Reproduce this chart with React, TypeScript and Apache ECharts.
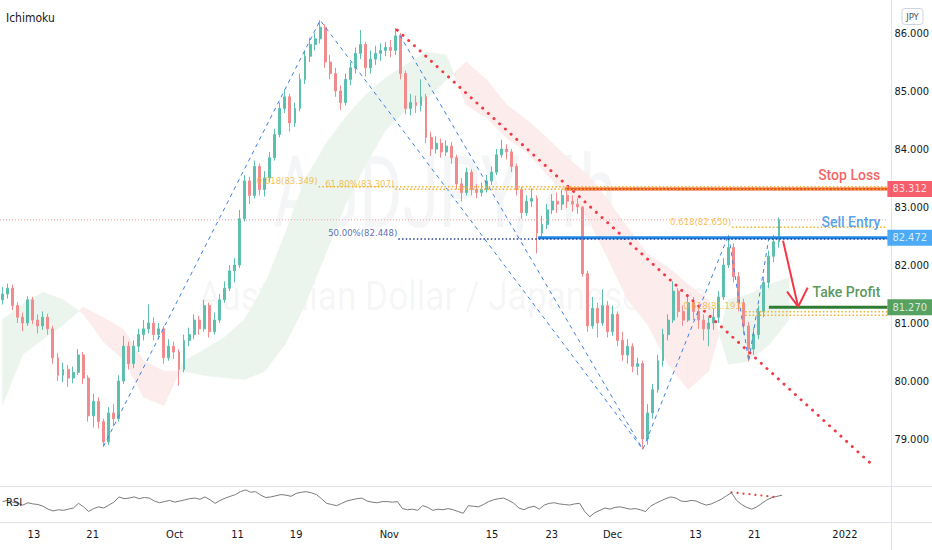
import React, { useEffect, useRef } from "react";
import * as echarts from "echarts";

// ---------- data ----------
const firstOpen = 81.4;
const closes = [
  81.5, 81.6, 81.3, 81.1, 81.0, 81.4, 81.05, 80.95, 81.1, 80.9,
  80.4, 80.1, 80.2, 80.05, 80.15, 80.45, 80.05, 79.4, 79.65, 79.3,
  78.95, 79.45, 79.35, 80.0, 80.6, 80.3, 80.6, 80.8, 80.9, 81.0,
  80.8, 80.9, 80.4, 80.6, 80.5, 80.2, 80.7, 80.8, 81.05, 80.9,
  81.3, 80.85, 81.05, 81.4, 81.6, 81.9, 82.0, 82.8, 83.45, 83.2,
  83.7, 83.3, 83.5, 83.85, 84.25, 84.7, 84.9, 84.45, 84.7, 85.2,
  85.6, 85.8, 85.9, 86.1, 85.5, 85.3, 85.0, 84.8, 85.2, 85.4,
  85.65, 85.8, 85.4, 85.55, 85.65, 85.7, 85.75, 85.7, 85.95, 85.3,
  84.7, 84.8, 84.75, 84.9, 84.2, 84.0, 84.1, 83.95, 84.05, 83.85,
  83.4, 83.25, 83.6, 83.3, 83.25, 83.3, 83.45, 83.6, 83.9, 84.0,
  83.95, 83.7, 83.3, 82.9, 83.1, 83.15, 82.55, 82.7, 82.95, 83.1,
  83.05, 83.2, 83.1, 83.05, 83.0, 81.85, 80.95, 81.25, 81.0, 81.3,
  80.85, 81.15, 80.7, 80.45, 80.6, 80.25, 80.3, 79.0, 79.45, 79.85,
  80.35, 80.8, 81.05, 81.55, 81.2, 81.05, 81.35, 81.2, 81.05, 80.9,
  81.0, 81.1, 81.45, 82.0, 82.3, 81.8, 81.35, 80.95, 80.55, 80.8,
  81.2, 81.7, 82.15, 82.4, 82.78,
];
const highs = [
  81.62, 81.68, 81.66, 81.36, 81.18, 81.46, 81.45, 81.15, 81.2, 81.16,
  80.95, 80.48, 80.32, 80.28, 80.25, 80.55, 80.5, 80.1, 79.78, 79.72,
  79.35, 79.55, 79.6, 80.1, 80.78, 80.68, 80.7, 80.9, 81.05, 81.32,
  81.1, 81.0, 80.95, 80.72, 80.68, 80.55, 80.8, 80.92, 81.15, 81.12,
  81.4, 81.35, 81.18, 81.5, 81.72, 82.0, 82.12, 82.95, 83.55, 83.52,
  83.8, 83.75, 83.62, 83.95, 84.35, 84.8, 85.02, 84.95, 84.8, 85.3,
  85.7, 85.92, 86.0, 86.22, 86.15, 85.62, 85.4, 85.1, 85.3, 85.5,
  85.75, 86.05, 85.85, 85.7, 85.78, 85.82, 85.85, 85.88, 86.08, 86.0,
  85.35, 84.95, 84.92, 85.2, 84.95, 84.3, 84.22, 84.18, 84.15, 84.12,
  83.9, 83.5, 83.68, 83.65, 83.4, 83.42, 83.55, 83.7, 84.0, 84.16,
  84.08, 84.0, 83.75, 83.35, 83.2, 83.32, 83.2, 82.85, 83.05, 83.22,
  83.25, 83.3, 83.28, 83.2, 83.15, 83.02, 81.9, 81.45, 81.35, 81.58,
  81.38, 81.3, 81.2, 80.85, 80.72, 80.65, 80.4, 80.35, 79.6, 79.95,
  80.45, 80.9, 81.15, 81.72, 81.6, 81.3, 81.5, 81.45, 81.3, 81.15,
  81.1, 81.25, 81.55, 82.12, 82.52, 82.38, 81.88, 81.42, 81.02, 80.92,
  81.3, 81.8, 82.25, 82.52, 82.82,
];
const lows = [
  81.32, 81.42, 81.22, 81.0, 80.86, 80.95, 80.98, 80.82, 80.88, 80.8,
  80.3, 80.0, 79.98, 79.9, 79.96, 80.1, 79.95, 79.3, 79.2, 79.18,
  78.87, 78.9, 79.22, 79.3, 79.95, 80.2, 80.22, 80.5, 80.7, 80.82,
  80.7, 80.72, 80.3, 80.35, 80.38, 79.92, 80.15, 80.6, 80.72, 80.8,
  80.85, 80.75, 80.8, 81.0, 81.35, 81.55, 81.7, 81.95, 82.75, 83.05,
  83.15, 83.2, 83.18, 83.42, 83.8, 84.2, 84.62, 84.3, 84.38, 84.65,
  85.12, 85.5, 85.7, 85.82, 85.4, 85.2, 84.9, 84.67, 84.75, 85.1,
  85.3, 85.55, 85.25, 85.3, 85.45, 85.52, 85.6, 85.58, 85.62, 85.2,
  84.6, 84.58, 84.62, 84.65, 84.1, 83.88, 83.92, 83.85, 83.88, 83.75,
  83.3, 83.1, 83.2, 83.2, 83.15, 83.18, 83.25, 83.38, 83.55, 83.85,
  83.82, 83.6, 83.2, 82.8, 82.85, 83.0, 82.2, 82.45, 82.62, 82.88,
  82.9, 82.95, 82.98, 82.92, 82.88, 81.8, 80.85, 80.9, 80.75, 80.95,
  80.75, 80.78, 80.6, 80.35, 80.3, 80.15, 80.1, 78.82, 78.9, 79.35,
  79.8, 80.25, 80.7, 81.0, 81.1, 80.95, 81.02, 81.05, 80.9, 80.7,
  80.6, 80.88, 81.0, 81.4, 81.95, 81.7, 81.2, 80.8, 80.34, 80.45,
  80.72, 81.1, 81.6, 82.05, 82.3,
];
const rsiValues = [
  55, 57, 54, 52, 49, 53, 51, 50, 47, 42,
  39, 41, 40, 42, 44, 52, 46, 38, 43, 46,
  44, 49, 54, 63, 60, 61, 63, 60, 62, 61,
  56, 53, 55, 57, 54, 56, 58, 60, 61, 59,
  63, 58, 52, 57, 61, 64, 67, 72, 75, 71,
  72, 66, 62, 63, 65, 67, 66, 64, 69, 71,
  72, 70, 67, 60, 52, 50, 48, 52, 56, 58,
  60, 61, 56, 54, 53, 55, 55, 54, 55, 43,
  41, 42, 40, 48, 45, 40, 42, 41, 43, 41,
  38, 35, 48, 47, 46, 50, 55, 58, 60, 61,
  57, 52, 44, 41, 45, 47, 42, 49, 52, 53,
  51, 50, 49, 51, 52, 38, 29, 36, 40, 44,
  42, 45, 46, 44, 42, 43, 41, 38, 47, 52,
  56, 60, 63, 61, 56, 55, 57, 56, 52, 49,
  51, 55, 59, 65, 70, 57, 50, 45, 42, 46,
  52, 58, 62, 64, 66,
];

// Ichimoku cloud (Senkou spans), sampled every 4 slots
const cloudSlots = [
  0, 4, 8, 12, 16, 20, 24, 28, 32, 36, 40, 44, 48, 52, 56, 60, 64, 68, 72, 76,
  80, 84, 88, 92, 96, 100, 104, 108, 112, 116, 120, 124, 128, 132, 136, 140, 144, 148, 152, 156,
];
const spanA = [
  81.06, 81.32, 81.53, 81.4, 81.16, 80.68, 80.37, 79.72, 79.58, 80.34,
  80.54, 80.75, 81.06, 81.66, 82.52, 83.47, 84.07, 84.54, 84.93, 85.23,
  85.45, 85.67, 85.62, 84.76, 84.54, 84.19, 83.95, 83.56, 83.21, 82.82,
  82.13, 81.4, 80.97, 80.29, 79.86, 80.17, 81.4, 81.49, 81.66, 81.78,
];
const spanB = [
  79.6, 80.46, 80.72, 80.97, 81.27, 81.09, 80.89, 80.34, 80.17, 80.17,
  80.1, 80.06, 80.03, 80.17, 80.63, 81.32, 82.18, 83.04, 83.73, 84.33,
  84.67, 84.85, 85.19, 85.5, 85.19, 84.76, 84.5, 84.19, 83.85, 83.56,
  83.13, 82.64, 82.18, 81.96, 81.66, 81.4, 80.29, 80.34, 80.63, 81.06,
];

// time axis ticks (slot positions, half-day slots)
const xTickSlots = [6.2, 17.8, 34.0, 46.4, 58.0, 76.4, 96.7, 108.5, 120.5, 136.9, 148.5, 166.4];
const xTickLabels = ["13", "21", "Oct", "11", "19", "Nov", "15", "23", "Dec", "13", "21", "2022"];
const priceTicks = [79, 80, 81, 82, 83, 84, 85, 86];

// drawings (slot, price)
const zigzagMain = [[20, 78.87], [63, 86.22], [127, 78.82], [144, 82.52], [148, 80.34], [152, 82.47]];
const zigzagSecond = [[78, 86.08], [127, 78.82]];
const trendLine = [[78.3, 86.05], [172.3, 78.57]];
const rsiTrend = [[144, 71], [152.5, 63]];
const arrowShaft = [[154.8, 82.42], [157.8, 81.28]];
const arrowHead = [[155.6, 81.54], [157.8, 81.28], [159.7, 81.61]];

const stopLoss = 83.312;
const sellEntry = 82.472;
const takeProfit = 81.27;
const stopLossStart = 111.5;
const sellEntryStart = 106.2;
const takeProfitStart = 152.0;

const goldLevels = [83.349, 83.307, 82.65, 81.193, 81.135];
const goldStarts = [62.7, 77.9, 144.7, 147.3, 147.3];
const goldTexts = ["0.618(83.349)", "61.80%(83.307)", "0.618(82.650)", "0.618(81.193)", ""];
const halfLevel = 82.448;
const halfStart = 78.5;
const halfText = "50.00%(82.448)";

// ---------- layout constants ----------
const N_SLOTS = 176;
const X_MIN = -0.5;
const X_MAX = N_SLOTS - 0.5;
const PRICE_MAX = 86.569;
const PRICE_MIN = 78.19;
const FONT = "'Liberation Sans Narrow','DejaVu Sans Condensed','Arial Narrow',Roboto,sans-serif";
const UP = "#5dbfae";
const DOWN = "#f08b8e";
const GOLD = "#f3b229";

export default function App() {
  const ref = useRef<HTMLDivElement>(null);

  useEffect(() => {
    const el = ref.current!;
    const chart = echarts.init(el, null, { renderer: "svg" });

    const opens = closes.map((c, i) => (i === 0 ? firstOpen : closes[i - 1]));
    const candles = closes.map((c, i) => [opens[i], c, lows[i], highs[i]]);
    const slotNames = Array.from({ length: N_SLOTS }, (_, i) => String(i));
    const lastPrice = closes[closes.length - 1];

    const cloudSegments: number[][] = [];
    for (let i = 0; i < cloudSlots.length - 1; i++) {
      cloudSegments.push([cloudSlots[i], spanA[i], spanB[i], cloudSlots[i + 1], spanA[i + 1], spanB[i + 1]]);
    }

    const seg = (data: any[], color: string, width: number, type: any, z = 5, extra: any = {}) => ({
      type: "line",
      xAxisIndex: 1,
      yAxisIndex: 0,
      data,
      symbol: "none",
      silent: true,
      z,
      lineStyle: { color, width, type, cap: extra.cap || "butt" },
    });

    const textSeries = (
      x: number, y: number, text: string, color: string, fontSize: number, offsetY: number,
      family = FONT, weight: any = "normal",
    ) => ({
      type: "scatter",
      xAxisIndex: 1,
      yAxisIndex: 0,
      symbolSize: 0,
      silent: true,
      z: 12,
      data: [[x, y]],
      label: {
        show: true,
        position: "left",
        distance: 1,
        offset: [0, offsetY],
        formatter: text,
        color,
        fontSize,
        fontFamily: family,
        fontWeight: weight,
      },
    });

    const priceBox = (value: number, bg: string) => ({
      type: "scatter",
      xAxisIndex: 1,
      yAxisIndex: 0,
      symbolSize: 0,
      silent: true,
      clip: false,
      z: 30,
      data: [[X_MAX, value]],
      label: {
        show: true,
        position: "right",
        distance: 0,
        formatter: value.toFixed(3),
        color: "#ffffff",
        backgroundColor: bg,
        padding: [3, 7, 2, 5],
        fontSize: 11,
        fontFamily: FONT,
      },
    });

    const series: any[] = [];

    // Ichimoku cloud
    series.push({
      type: "custom",
      xAxisIndex: 1,
      yAxisIndex: 0,
      z: 1,
      silent: true,
      clip: true,
      data: cloudSegments,
      encode: { x: [0, 3], y: [1, 2, 4, 5] },
      renderItem: (params: any, api: any) => {
        const s0 = api.value(0), a0 = api.value(1), b0 = api.value(2);
        const s1 = api.value(3), a1 = api.value(4), b1 = api.value(5);
        const col = (d: number) => (d >= 0 ? "#ebf5ed" : "#fdecec");
        const d0 = a0 - b0, d1 = a1 - b1;
        const P = (s: number, v: number) => api.coord([s, v]);
        if (d0 * d1 < 0) {
          const t = d0 / (d0 - d1);
          const xs = s0 + t * (s1 - s0);
          const ys = a0 + t * (a1 - a0);
          return {
            type: "group",
            children: [
              { type: "polygon", shape: { points: [P(s0, a0), P(xs, ys), P(s0, b0)] }, style: { fill: col(d0), stroke: col(d0), lineWidth: 0.8 } },
              { type: "polygon", shape: { points: [P(xs, ys), P(s1, a1), P(s1, b1)] }, style: { fill: col(d1), stroke: col(d1), lineWidth: 0.8 } },
            ],
          };
        }
        const c = col(d0 + d1);
        return {
          type: "polygon",
          shape: { points: [P(s0, a0), P(s1, a1), P(s1, b1), P(s0, b0)] },
          style: { fill: c, stroke: c, lineWidth: 0.8 },
        };
      },
    });

    // candles
    series.push({
      type: "candlestick",
      xAxisIndex: 0,
      yAxisIndex: 0,
      data: candles,
      barWidth: 2.4,
      z: 3,
      silent: true,
      itemStyle: { color: UP, color0: DOWN, borderColor: UP, borderColor0: DOWN, borderWidth: 1 },
    });

    // current price line
    series.push(seg([[X_MIN, lastPrice], [X_MAX, lastPrice]], "#f5a0a7", 1, [1, 2], 4));

    // zigzag dashed lines
    series.push(seg(zigzagMain, "#3f80e4", 1, [4, 4], 6));
    series.push(seg(zigzagSecond, "#3f80e4", 1, [4, 4], 6));

    // red dotted trend line
    series.push(seg(trendLine, "#f03a46", 3, [0.01, 7.7], 7, { cap: "round" }));

    // solid trade levels
    series.push(seg([[stopLossStart, stopLoss], [X_MAX, stopLoss]], "#e94f1f", 3, "solid", 8));
    series.push(seg([[sellEntryStart, sellEntry], [X_MAX, sellEntry]], "#1e88e5", 3, "solid", 8));
    series.push(seg([[takeProfitStart, takeProfit], [X_MAX, takeProfit]], "#2e7d32", 3, "solid", 8));

    // fib dotted levels
    goldLevels.forEach((v, i) => {
      series.push(seg([[goldStarts[i], v], [X_MAX, v]], GOLD, 1.5, [1.5, 2.2], 9));
      if (goldTexts[i]) series.push(textSeries(goldStarts[i], v, goldTexts[i], "#f0b12a", 9.5, -6));
    });
    series.push(seg([[halfStart, halfLevel], [X_MAX, halfLevel]], "#2b3f95", 1.5, [1.5, 2.2], 9));
    series.push(textSeries(halfStart, halfLevel, halfText, "#30489c", 9.5, -7));

    // arrow
    series.push(seg(arrowShaft, "#f23645", 2, "solid", 10));
    series.push(seg(arrowHead, "#f23645", 2, "solid", 10));

    // trade texts
    series.push(textSeries(174.3, stopLoss, "Stop Loss", "#ef3b3b", 14, -14, "Roboto", 500));
    series.push(textSeries(174.3, sellEntry, "Sell Entry", "#2a8ce6", 14, -16, "Roboto", 500));
    series.push(textSeries(174.3, takeProfit, "Take Profit", "#2e7d32", 14, -15, "Roboto", 500));

    // price boxes on the scale
    series.push(priceBox(stopLoss, "#f23645"));
    series.push(priceBox(sellEntry, "#2196f3"));
    series.push(priceBox(takeProfit, "#2e8b3a"));

    // RSI
    series.push({
      type: "line",
      xAxisIndex: 2,
      yAxisIndex: 1,
      data: rsiValues.map((v, i) => [i, v]),
      symbol: "none",
      silent: true,
      lineStyle: { color: "#7a7a7a", width: 1 },
      z: 3,
    });
    series.push({
      type: "line",
      xAxisIndex: 2,
      yAxisIndex: 1,
      data: rsiTrend,
      symbol: "none",
      silent: true,
      lineStyle: { color: "#f03a46", width: 2.2, type: [0.01, 6], cap: "round" },
      z: 4,
    });

    const option: any = {
      animation: false,
      backgroundColor: "#ffffff",
      grid: [
        { left: 0, right: 41, top: 0, height: 486 },
        { left: 0, right: 41, top: 487, height: 35 },
      ],
      xAxis: [
        { type: "category", gridIndex: 0, data: slotNames, show: false, boundaryGap: true },
        { type: "value", gridIndex: 0, min: X_MIN, max: X_MAX, show: false },
        {
          type: "value",
          gridIndex: 1,
          min: X_MIN,
          max: X_MAX,
          axisLine: { show: false },
          axisTick: { show: false },
          splitLine: { show: false },
          axisLabel: {
            customValues: xTickSlots,
            formatter: (v: number) => {
              const k = xTickSlots.findIndex((s) => Math.abs(s - v) < 1e-6);
              return k >= 0 ? xTickLabels[k] : "";
            },
            color: "#131722",
            fontSize: 11,
            fontFamily: FONT,
            margin: 7,
          },
        },
      ],
      yAxis: [
        {
          type: "value",
          gridIndex: 0,
          min: PRICE_MIN,
          max: PRICE_MAX,
          position: "right",
          axisLine: { show: false },
          axisTick: { show: false },
          splitLine: { show: false },
          axisLabel: {
            customValues: priceTicks,
            formatter: (v: number) => v.toFixed(3),
            color: "#131722",
            fontSize: 11,
            fontFamily: FONT,
            margin: 7,
          },
        },
        { type: "value", gridIndex: 1, min: 20, max: 80, show: false },
      ],
      graphic: [
        { type: "line", silent: true, z: 20, shape: { x1: 891.5, y1: 0, x2: 891.5, y2: 550 }, style: { stroke: "#e0e3eb", lineWidth: 1 } },
        { type: "line", silent: true, z: 20, shape: { x1: 0, y1: 486.5, x2: 932, y2: 486.5 }, style: { stroke: "#e0e3eb", lineWidth: 1 } },
        { type: "line", silent: true, z: 20, shape: { x1: 0, y1: 522.5, x2: 932, y2: 522.5 }, style: { stroke: "#e0e3eb", lineWidth: 1 } },
        {
          type: "text", silent: true, z: 0, x: 445, y: 193, scaleX: 0.66,
          style: { text: "AUDJPY, 4h", fontSize: 100, fontFamily: "Roboto", fill: "rgba(120,123,134,0.08)", align: "center", verticalAlign: "middle" },
        },
        {
          type: "text", silent: true, z: 0, x: 453, y: 296, scaleX: 0.88,
          style: { text: "Australian Dollar / Japanese Yen", fontSize: 40, fontFamily: "Roboto", fill: "rgba(120,123,134,0.08)", align: "center", verticalAlign: "middle" },
        },
        { type: "text", silent: true, z: 20, x: 6, y: 18, style: { text: "Ichimoku", fontSize: 12, fontFamily: FONT, fill: "#131722", verticalAlign: "middle" } },
        { type: "text", silent: true, z: 20, x: 6, y: 502, style: { text: "RSI", fontSize: 11, fontFamily: FONT, fill: "#131722", verticalAlign: "middle" } },
        { type: "rect", silent: true, z: 20, shape: { x: 902, y: 8.5, width: 21, height: 16, r: 3 }, style: { fill: "#ffffff", stroke: "#d1d4dc", lineWidth: 1 } },
        { type: "text", silent: true, z: 21, x: 912.5, y: 16.5, style: { text: "JPY", fontSize: 9.5, fontFamily: FONT, fill: "#4c505b", align: "center", verticalAlign: "middle" } },
      ],
      series,
    };

    chart.setOption(option);
    return () => chart.dispose();
  }, []);

  return (
    <div
      ref={ref}
      style={{ position: "fixed", left: 0, top: 0, width: 932, height: 550, background: "#ffffff" }}
    />
  );
}
